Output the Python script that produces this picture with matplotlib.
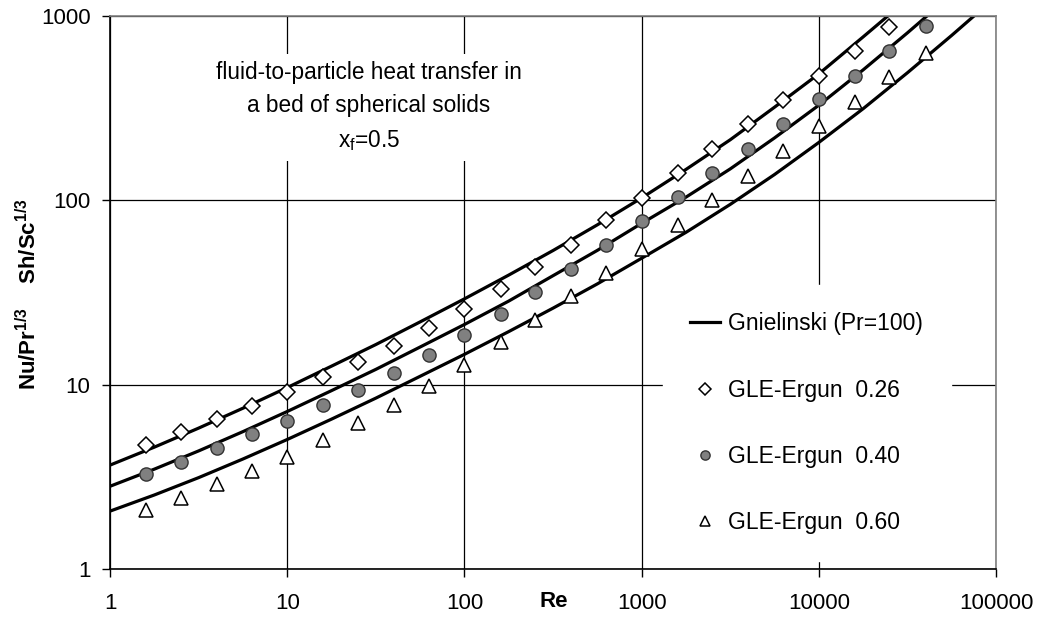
import numpy as np
import matplotlib
matplotlib.use('Agg')
import matplotlib.pyplot as plt
from matplotlib.ticker import FixedLocator, FixedFormatter, NullLocator

plt.rcParams['font.family'] = ['Liberation Sans', 'DejaVu Sans']
plt.rcParams['mathtext.fontset'] = 'custom'
plt.rcParams['mathtext.rm'] = 'Liberation Sans'
plt.rcParams['mathtext.bf'] = 'Liberation Sans:bold'

# Gnielinski curves (Pr=100) at quarter decades
re_curve = [1, 1.778, 3.162, 5.623, 10, 17.78, 31.62, 56.23, 100, 177.8, 316.2,
            562.3, 1000, 1778, 3162, 5623, 10000, 17783, 31623, 56234, 100000]
gn_026 = [3.66, 4.58, 5.81, 7.45, 9.64, 12.6, 16.5, 21.9, 29.2, 39.3, 53.4,
          73.6, 103, 147, 213, 320, 485, 770, 1230]
gn_040 = [2.81, 3.48, 4.37, 5.56, 7.15, 9.28, 12.1, 16.0, 21.2, 28.4, 39.0,
          53.5, 75, 104, 148, 218, 328, 510, 810, 1307]
gn_060 = [2.06, 2.52, 3.13, 3.95, 5.04, 6.50, 8.45, 11.1, 14.6, 19.4, 26.0,
          35.2, 48.5, 67.0, 95, 138, 206, 314, 492, 785, 1271]

# GLE-Ergun points
re_pts = [1.6, 2.5, 4, 6.3, 10, 16, 25, 40, 63, 100, 160, 250, 400, 630,
          1000, 1600, 2500, 4000, 6300, 10000, 16000, 25000, 40000]
gle_026 = [4.7, 5.56, 6.5, 7.7, 9.16, 10.97, 13.3, 16.3, 20.2, 25.7, 33.0, 43.5,
           57.3, 78.3, 103, 140, 190, 259, 351, 473, 649, 875]
gle_040 = [3.28, 3.82, 4.55, 5.4, 6.38, 7.73, 9.36, 11.5, 14.5, 18.6, 24.2, 32.0,
           42.3, 57.1, 77.3, 104, 141, 190, 259, 353, 475, 649, 884]
gle_060 = [2.09, 2.44, 2.88, 3.41, 4.07, 5.01, 6.17, 7.76, 9.84, 12.8, 17.1, 22.4,
           30.3, 40.2, 54.3, 73.5, 100, 136, 186, 253, 342, 465, 628]

x_ticks = [1, 10, 100, 1000, 10000, 100000]
y_ticks = [1, 10, 100, 1000]

FS = 16

fig = plt.figure(figsize=(10.37, 6.19), dpi=100)
ax = fig.add_axes([0.1061, 0.0808, 0.8544, 0.8934])
ax.set_xscale('log')
ax.set_yscale('log')
ax.set_xlim(1, 100000)
ax.set_ylim(1, 1000)

line_kw = dict(color='black', lw=2.3, solid_joinstyle='round')
ax.plot(re_curve[:len(gn_026)], gn_026, label='Gnielinski (Pr=100)', **line_kw)
ax.plot(re_curve[:len(gn_040)], gn_040, **line_kw)
ax.plot(re_curve[:len(gn_060)], gn_060, **line_kw)

ax.plot(re_pts[:len(gle_026)], gle_026, ls='none', marker='D', ms=8.5,
        mfc='white', mec='black', mew=1.1, label='GLE-Ergun  0.26', zorder=3)
ax.plot(re_pts, gle_040, ls='none', marker='o', ms=9.5,
        mfc='#808080', mec='#333333', mew=1.0, label='GLE-Ergun  0.40', zorder=3)
ax.plot(re_pts, gle_060, ls='none', marker='^', ms=10.5,
        mfc='white', mec='black', mew=1.1, label='GLE-Ergun  0.60', zorder=3)

# axes, ticks, grid
ax.xaxis.set_major_locator(FixedLocator(x_ticks))
ax.xaxis.set_major_formatter(FixedFormatter([str(v) for v in x_ticks]))
ax.yaxis.set_major_locator(FixedLocator(y_ticks))
ax.yaxis.set_major_formatter(FixedFormatter([str(v) for v in y_ticks]))
ax.xaxis.set_minor_locator(NullLocator())
ax.yaxis.set_minor_locator(NullLocator())
ax.tick_params(axis='both', which='major', direction='out', length=6, width=1,
               labelsize=FS)
ax.tick_params(axis='x', pad=11)
ax.tick_params(axis='y', pad=8)
ax.grid(True, which='major', color='black', lw=0.9)
ax.set_axisbelow(True)
for s in ['top', 'right']:
    ax.spines[s].set_color('#808080')
    ax.spines[s].set_linewidth(1.2)
for s in ['left', 'bottom']:
    ax.spines[s].set_color('black')
    ax.spines[s].set_linewidth(1.2)

ax.set_xlabel('Re', fontsize=FS, fontweight='bold')
ax.xaxis.set_label_coords(0.501, -0.040)
ax.set_ylabel(r'$\mathbf{Nu/Pr^{1/3}}$    $\mathbf{Sh/Sc^{1/3}}$', fontsize=FS)
ax.yaxis.set_label_coords(-0.078, 0.497)

ax.text(0.292, 0.835,
        'fluid-to-particle heat transfer in\na bed of spherical solids\n$\\mathrm{x_f}$=0.5',
        transform=ax.transAxes, ha='center', va='center', fontsize=16.3,
        linespacing=1.56, multialignment='center',
        bbox=dict(facecolor='white', edgecolor='none', pad=6), zorder=4)

leg = ax.legend(loc='upper left', bbox_to_anchor=(0.624, 0.5136), borderaxespad=0,
                fontsize=16.5, frameon=True, fancybox=False, edgecolor='white',
                facecolor='white', framealpha=1, labelspacing=1.88,
                handlelength=1.3, handletextpad=0.35, borderpad=1.2,
                markerscale=0.7)
leg.set_zorder(5)

fig.savefig('out.png', dpi=100)
